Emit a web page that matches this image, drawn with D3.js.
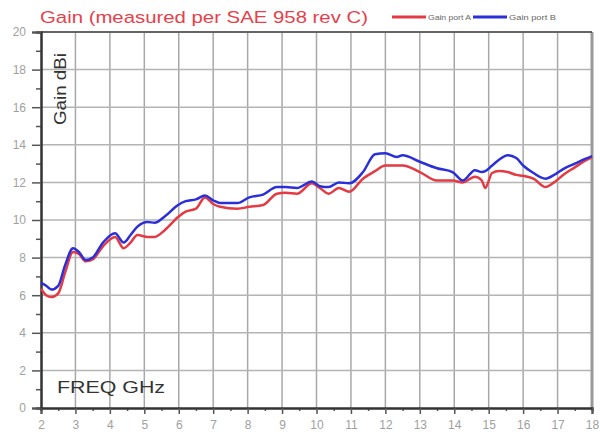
<!DOCTYPE html>
<html>
<head>
<meta charset="utf-8">
<script src="https://cdn.jsdelivr.net/npm/d3@7"></script>
<style>
  body { margin: 0; background: #fff; }
  svg { display: block; font-family: "Liberation Sans", Arial, sans-serif; }
</style>
</head>
<body>
<svg id="chart" width="600" height="443"></svg>
<script>
// gain data
var freq = [2.0, 2.15, 2.3, 2.5, 2.7, 2.93, 3.1, 3.3, 3.5, 3.8, 4.15, 4.4, 4.6, 4.8, 5.1, 5.3, 5.6, 5.98,
  6.2, 6.5, 6.76, 7.0, 7.2, 7.7, 8.05, 8.45, 8.85, 9.1, 9.43, 9.87, 10.1, 10.35, 10.65, 10.95, 11.35,
  11.7, 12.0, 12.33, 12.5, 13.0, 13.5, 13.95, 14.25, 14.6, 14.8, 14.9, 15.1, 15.3, 15.55, 15.8, 16.0,
  16.3, 16.65, 16.9, 17.2, 17.5, 17.8, 18.0];
var gainB = [6.65, 6.5, 6.3, 6.5, 7.6, 8.5, 8.3, 7.87, 8.0, 8.8, 9.3, 8.8, 9.2, 9.65, 9.9, 9.85, 10.2, 10.8,
  11.0, 11.1, 11.3, 11.05, 10.9, 10.9, 11.2, 11.35, 11.75, 11.75, 11.7, 12.05, 11.8, 11.75, 12.0, 11.95, 12.55,
  13.5, 13.55, 13.35, 13.45, 13.1, 12.75, 12.55, 12.1, 12.65, 12.55, 12.6, 12.9, 13.2, 13.45, 13.3, 12.9,
  12.5, 12.2, 12.4, 12.75, 13.0, 13.25, 13.4];
var gainA = [6.35, 6.0, 5.9, 6.1, 7.2, 8.3, 8.2, 7.8, 7.9, 8.6, 9.1, 8.5, 8.8, 9.2, 9.1, 9.1, 9.47, 10.16,
  10.45, 10.6, 11.2, 10.85, 10.7, 10.6, 10.7, 10.8, 11.4, 11.45, 11.4, 11.95, 11.7, 11.4, 11.7, 11.5, 12.2,
  12.6, 12.9, 12.9, 12.9, 12.55, 12.1, 12.1, 12.0, 12.3, 12.1, 11.7, 12.5, 12.6, 12.55, 12.4, 12.35,
  12.2, 11.75, 12.0, 12.45, 12.8, 13.15, 13.35];
var seriesNames = ["Gain port A", "Gain port B"];
var xTicks = d3.range(2, 19, 1);
var yTicks = d3.range(0, 21, 2);

var svg = d3.select("#chart");
var pLeft = 41, pRight = 592, pTop = 32, pBottom = 408;

var x = d3.scaleLinear().domain([2, 18]).range([pLeft, pRight]);
var y = d3.scaleLinear().domain([0, 20]).range([pBottom, pTop]);

//grid
svg.append("g").selectAll("line").data(xTicks.slice(1)).enter().append("line")
  .attr("x1", function(d){ return x(d) }).attr("x2", function(d){ return x(d) })
  .attr("y1", pTop).attr("y2", pBottom)
  .style("stroke", "#a8a8a8").style("stroke-width", 1.5)
svg.append("g").selectAll("line").data(yTicks.slice(1)).enter().append("line")
  .attr("x1", pLeft).attr("x2", pRight)
  .attr("y1", function(d){ return y(d) }).attr("y2", function(d){ return y(d) })
  .style("stroke", "#b4b4b4").style("stroke-width", 1.5)

// frame right + top
svg.append("line").attr("x1", pRight).attr("x2", pRight).attr("y1", pTop).attr("y2", pBottom)
  .style("stroke", "#999").style("stroke-width", 3)
svg.append("line").attr("x1", pLeft).attr("x2", pRight).attr("y1", pTop).attr("y2", pTop)
  .style("stroke", "#444").style("stroke-width", 1.5)

// axes
var yAxis = d3.axisLeft(y).tickValues(yTicks).tickSize(9).tickPadding(6);
var yMinor = d3.axisLeft(y).tickValues(d3.range(1, 20, 2)).tickSize(5).tickFormat("");
var xAxis = d3.axisBottom(x).tickValues(xTicks).tickSize(6).tickPadding(6);
var xMinor = d3.axisBottom(x).tickValues(d3.range(2.5, 18, 1)).tickSize(3).tickFormat("");

function styleAxis(g){
  g.select(".domain").style("stroke", "#333").style("stroke-width", 2);
  g.selectAll(".tick line").style("stroke", "#555").style("stroke-width", 1.5);
  g.selectAll(".tick text").style("fill", "#a0a0a0").style("font-size", "12px")
    .style("font-family", "Liberation Sans, Arial, sans-serif");
}
svg.append("g").attr("transform", "translate(" + pLeft + ",0)").call(yMinor).call(styleAxis)
svg.append("g").attr("transform", "translate(" + pLeft + ",0)").call(yAxis).call(styleAxis)
svg.append("g").attr("transform", "translate(0," + pBottom + ")").call(xMinor).call(styleAxis)
svg.append("g").attr("transform", "translate(0," + pBottom + ")").call(xAxis).call(styleAxis)

// lines
var line = d3.line().x(function(d){ return x(d[0]) }).y(function(d){ return y(d[1]) }).curve(d3.curveMonotoneX);
var colors = ["#e33a44", "#2b2fd8"];
[gainA, gainB].forEach(function(s, i){
  svg.append("path")
    .datum(freq.map(function(f, j){ return [f, s[j]] }))
    .attr("d", line)
    .style("fill", "none")
    .style("stroke", colors[i])
    .style("stroke-width", 2.5)
    .style("stroke-linejoin", "round")
})

// title + legend (the source picture is stretched sideways, so text is stretched too)
svg.append("text").attr("x", 40).attr("y", 23).text("Gain (measured per SAE 958 rev C)")
  .attr("textLength", 328).attr("lengthAdjust", "spacingAndGlyphs")
  .style("fill", "#e8404a").style("font-size", "17px")

var legX = [392, 473];
seriesNames.forEach(function(n, i){
  svg.append("line").attr("x1", legX[i]).attr("x2", legX[i] + 34).attr("y1", 17).attr("y2", 17)
    .style("stroke", colors[i]).style("stroke-width", 3)
  svg.append("text").attr("x", legX[i] + 36).attr("y", 20).text(n)
    .attr("textLength", i == 0 ? 43 : 47).attr("lengthAdjust", "spacingAndGlyphs")
    .style("fill", "#666").style("font-size", "8px")
})

// inner axis labels
svg.append("text").attr("transform", "translate(66,89) rotate(-90)").attr("text-anchor", "middle")
  .text("Gain dBi").attr("textLength", 72).attr("lengthAdjust", "spacingAndGlyphs")
  .style("fill", "#333").style("font-size", "17px")
svg.append("text").attr("x", 57).attr("y", 393).text("FREQ GHz")
  .attr("textLength", 108).attr("lengthAdjust", "spacingAndGlyphs")
  .style("fill", "#333").style("font-size", "17px")
</script>
</body>
</html>
